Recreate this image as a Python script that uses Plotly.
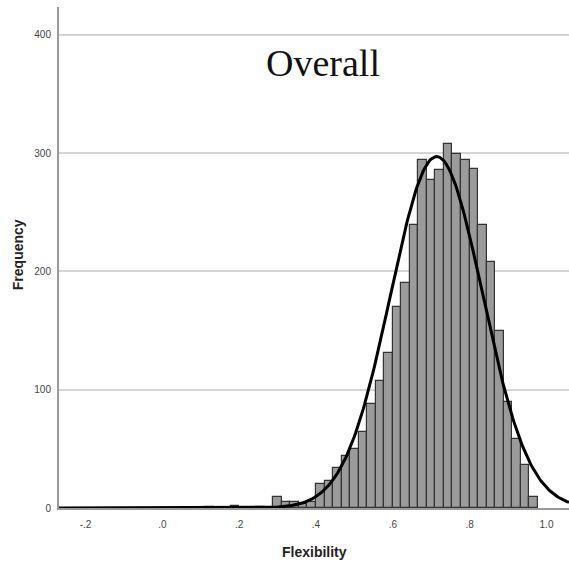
import numpy as np
import plotly.graph_objects as go

# ---- data ----
bin_start = 0.1114          # left edge of first non-empty bin
bin_width = 0.0222
counts = [1, 0, 0, 2, 0, 0, 1, 0, 9, 5, 5, 3, 5,
          20, 23, 34, 44, 50, 64, 88, 107, 131, 170, 190, 239, 294, 277,
          286, 308, 299, 294, 287, 239, 208, 150, 90, 58, 36, 9]
fit_mean = 0.714
fit_sd = 0.12
fit_n = sum(counts)

x_tickvals = [-0.2, 0.0, 0.2, 0.4, 0.6, 0.8, 1.0]
x_ticktext = ["-.2", ".0", ".2", ".4", ".6", ".8", "1.0"]
y_tickvals = [0, 100, 200, 300, 400]

x_range = [-0.269, 1.0586]
y_range = [0, 423.6]

# ---- build ----
centers = bin_start + bin_width * (np.arange(len(counts)) + 0.5)
xc = np.linspace(x_range[0], x_range[1], 400)
yc = fit_n * bin_width / (fit_sd * np.sqrt(2 * np.pi)) * np.exp(-0.5 * ((xc - fit_mean) / fit_sd) ** 2)

fig = go.Figure()
fig.add_trace(go.Bar(
    x=centers, y=counts, width=bin_width,
    marker=dict(color="#9b9b9b", line=dict(color="#333333", width=1.2)),
    showlegend=False, hoverinfo="x+y"))
fig.add_trace(go.Scatter(
    x=xc, y=yc, mode="lines", line=dict(color="black", width=3),
    showlegend=False, hoverinfo="skip"))

fig.update_layout(
    width=569, height=565,
    margin=dict(l=59, r=0, t=7, b=57),
    plot_bgcolor="white", paper_bgcolor="white",
    bargap=0,
    font=dict(family="Liberation Sans, Arial, sans-serif", color="#333"),
    xaxis=dict(range=x_range, tickvals=x_tickvals, ticktext=x_ticktext,
               showgrid=False, zeroline=False, showline=True,
               linecolor="#999", linewidth=2,
               ticks="outside", ticklen=6, tickcolor="rgba(0,0,0,0)",
               tickfont=dict(size=10, color="#444")),
    yaxis=dict(range=y_range, tickvals=y_tickvals,
               showgrid=True, gridcolor="#d4d4d4", gridwidth=1.5,
               zeroline=False, showline=True, linecolor="#999", linewidth=2,
               ticks="outside", ticklen=4, tickcolor="rgba(0,0,0,0)",
               tickfont=dict(size=10, color="#444")),
    annotations=[
        dict(text="Overall", x=0.518, y=0.888, xref="paper", yref="paper",
             xanchor="center", yanchor="middle", showarrow=False,
             font=dict(family="Liberation Serif, Times New Roman, serif", size=38, color="#111")),
        dict(text="<b>Frequency</b>", x=-0.080, y=0.505, xref="paper", yref="paper",
             xanchor="center", yanchor="middle", showarrow=False, textangle=-90,
             font=dict(size=14, color="#222")),
        dict(text="<b>Flexibility</b>", x=0.501, y=-0.088, xref="paper", yref="paper",
             xanchor="center", yanchor="middle", showarrow=False,
             font=dict(size=14, color="#222")),
    ],
)

fig.write_html(
    "out.html",
    config={"displayModeBar": False},
    post_script="document.body.style.margin='0';document.body.style.overflow='hidden';"
)
